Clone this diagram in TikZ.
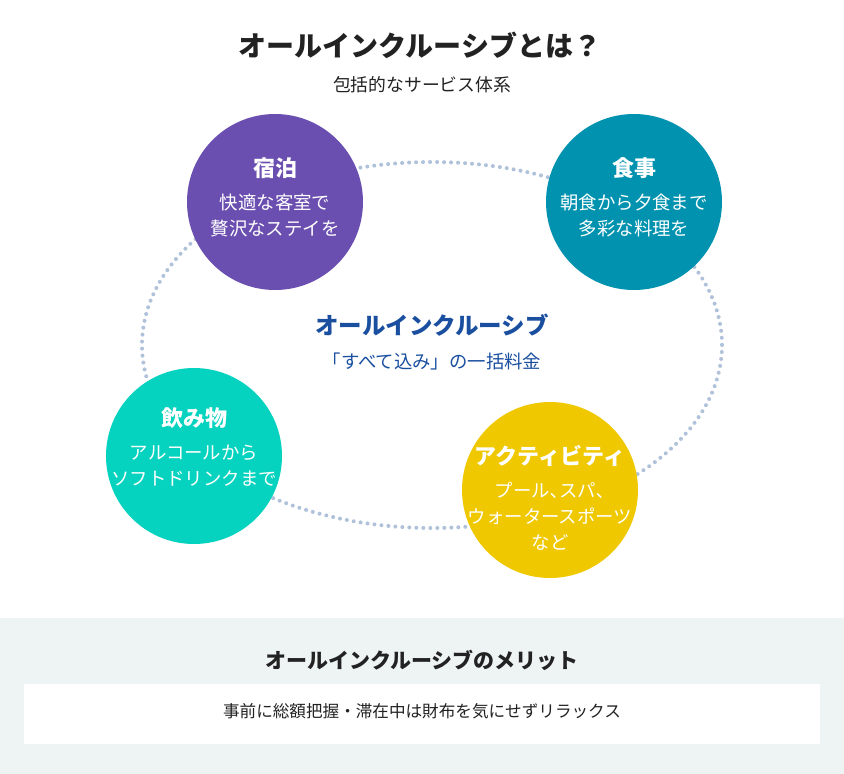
\documentclass[tikz,border=0pt]{standalone}
\usepackage{fontspec}
\setmainfont{Noto Sans CJK JP}
\definecolor{stayc}{HTML}{6B4FB0}
\definecolor{mealc}{HTML}{0092AE}
\definecolor{drinkc}{HTML}{05D3BF}
\definecolor{actc}{HTML}{F0C800}
\definecolor{ringc}{HTML}{B0C2DA}
\definecolor{navyc}{HTML}{1A4FA0}
\definecolor{panelc}{HTML}{EEF3F3}
\definecolor{inkc}{HTML}{222222}
\tikzset{
  topic/.style={circle, minimum size=176pt, inner sep=0pt, text=white, align=center},
  head/.style={font=\fontsize{22}{26}\selectfont\bfseries},
  body/.style={font=\fontsize{18.4}{26}\selectfont}
}
\begin{document}
\begin{tikzpicture}[x=1pt, y=-1pt]
  \useasboundingbox (0,0) rectangle (844,774);
  \fill[white] (0,0) rectangle (844,618);
  \fill[panelc] (0,618) rectangle (844,774);
  \fill[white] (24,684) rectangle (820,744);
  \node[text=inkc, font=\fontsize{28}{32}\selectfont\bfseries] (title) at (420,45) {オールインクルーシブとは？};
  \node[text=inkc, font=\fontsize{17.8}{20}\selectfont] (subtitle) at (422,85) {包括的なサービス体系};
  % dotted ring behind the circles
  \draw[ringc, line width=4pt, line cap=round, dash pattern=on 0pt off 7pt] (432,345) ellipse [x radius=290, y radius=183];
  \node[fill=stayc, topic] (stay) at (275,202) {};
  \node[fill=mealc, topic] (meal) at (634,202) {};
  \node[fill=drinkc, topic] (drink) at (194,456) {};
  \node[fill=actc, topic] (act) at (550,490) {};
  \node[head, text=white] (stayh) at (275,168) {宿泊};
  \node[body, text=white, align=center] (stayb) at (275,216) {快適な客室で\\贅沢なステイを};
  \node[head, text=white] (mealh) at (634,168) {食事};
  \node[body, text=white, align=center] (mealb) at (634,216) {朝食から夕食まで\\多彩な料理を};
  \node[head, text=white] (drinkh) at (194,418) {飲み物};
  \node[body, text=white, align=center] (drinkb) at (194,466) {アルコールから\\ソフトドリンクまで};
  \node[head, text=white] (acth) at (550,456) {アクティビティ};
  \node[body, text=white, align=center] (actb) at (550,516) {プール､スパ､\\ウォータースポーツ\\など};
  \node[text=navyc, font=\fontsize{23.5}{27}\selectfont\bfseries] (core) at (432,325) {オールインクルーシブ};
  \node[text=navyc, font=\fontsize{18.4}{22}\selectfont] (coreb) at (432,362) {「すべて込み」の一括料金};
  \node[text=inkc, font=\fontsize{21}{25}\selectfont\bfseries] (merit) at (422,660) {オールインクルーシブのメリット};
  \node[text=inkc, font=\fontsize{16.6}{20}\selectfont] (meritb) at (422,711) {事前に総額把握・滞在中は財布を気にせずリラックス};
\end{tikzpicture}
\end{document}
